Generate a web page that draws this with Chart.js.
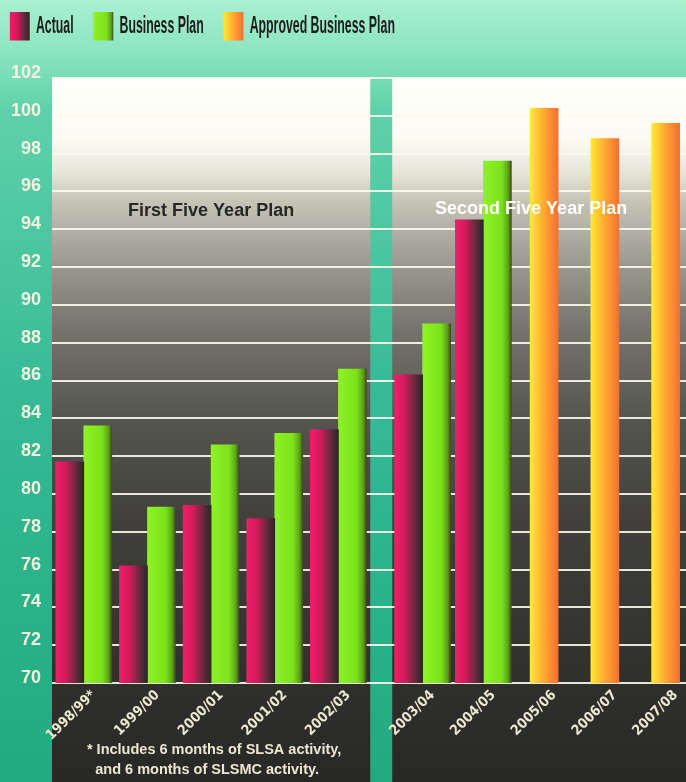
<!DOCTYPE html>
<html>
<head>
<meta charset="utf-8">
<script src="https://cdn.jsdelivr.net/npm/chart.js@4.4.1/dist/chart.umd.min.js"></script>
<style>
  html, body { margin: 0; padding: 0; background: #3cc39c; }
  #wrap { position: relative; width: 686px; height: 782px; }
</style>
</head>
<body>
<div id="wrap"><canvas id="chart"></canvas></div>
<script>
// ---- data ----
const categories = ['1998/99*', '1999/00', '2000/01', '2001/02', '2002/03',
                    '2003/04', '2004/05', '2005/06', '2006/07', '2007/08'];
const actual       = [81.7, 76.2, 79.4, 78.7, 83.4, 86.3, 94.5, null, null, null];
const businessPlan = [83.6, 79.3, 82.6, 83.2, 86.6, 89.0, 97.6, null, null, null];
const approvedPlan = [null, null, null, null, null, null, null, 100.4, 98.8, 99.6];
const yTickValues  = [70, 72, 74, 76, 78, 80, 82, 84, 86, 88, 90, 92, 94, 96, 98, 100, 102];
const panelTitles  = ['First Five Year Plan', 'Second Five Year Plan'];
const footnoteLines = ['* Includes 6 months of SLSA activity,', 'and 6 months of SLSMC activity.'];

// ---- styles ----
const CONDENSED = "'DejaVu Sans Condensed', 'Liberation Sans', sans-serif";
const SANS = "'Liberation Sans', Arial, sans-serif";
const shades = {
  actual:   [[0, '#ee1f68'], [0.35, '#d41a5b'], [0.75, '#5e2b3b'], [1, '#2c2527']],
  plan:     [[0, '#8ef224'], [0.65, '#7ce21b'], [0.88, '#5ca41a'], [1, '#3c4c1c']],
  approved: [[0, '#ffea34'], [0.3, '#ffc232'], [0.65, '#ff9532'], [1, '#f27032']]
};

// Category axis split into two panels with a gap between them.
class SplitCategoryScale extends Chart.CategoryScale {
  panelGeometry() {
    const o = this.options;
    const n = this.getLabels().length;
    const split = o.splitAt;
    const usable = this.width - o.panelGap;
    const leftW = usable * o.leftShare;
    const left0 = this.left, left1 = this.left + leftW;
    const right0 = left1 + o.panelGap, right1 = this.right;
    return {
      n, split, left0, left1, right0, right1,
      leftStep: leftW / split,
      rightStep: (right1 - right0 + o.rightOverhang) / (n - split)
    };
  }
  getPixelForValue(value) {
    if (typeof value !== 'number') value = this.parse(value);
    if (value === null || value === undefined || isNaN(value)) return NaN;
    const g = this.panelGeometry();
    if (value < g.split) return g.left0 + (value + 0.5) * g.leftStep;
    return g.right0 + (value - g.split + 0.5) * g.rightStep;
  }
}
SplitCategoryScale.id = 'splitCategory';
SplitCategoryScale.defaults = Chart.CategoryScale.defaults;
Chart.register(SplitCategoryScale);

function gradientFrom(ctx, x0, x1, stops) {
  const g = ctx.createLinearGradient(x0, 0, x1, 0);
  stops.forEach(([o, c]) => g.addColorStop(o, c));
  return g;
}

// page backdrop and the two shaded panels
const panelBackdrop = {
  id: 'panelBackdrop',
  beforeDraw(chart) {
    const { ctx, width, height, chartArea } = chart;
    const g = chart.scales.x.panelGeometry();
    ctx.save();
    const page = ctx.createLinearGradient(0, 0, 0, height);
    page.addColorStop(0, '#a9f0cf');
    page.addColorStop(0.06, '#8fe6c2');
    page.addColorStop(0.14, '#5fd1aa');
    page.addColorStop(0.5, '#36bb94');
    page.addColorStop(1, '#21aa7f');
    ctx.fillStyle = page;
    ctx.fillRect(0, 0, width, height);

    const top = chartArea.top, span = height - top;
    const f = (y) => Math.min(1, Math.max(0, (y - top) / span));
    const pan = ctx.createLinearGradient(0, top, 0, height);
    pan.addColorStop(0, '#fffffb');
    pan.addColorStop(f(140), '#fbfbf2');
    pan.addColorStop(f(175), '#e4e3d6');
    pan.addColorStop(f(200), '#c6c5b8');
    pan.addColorStop(f(260), '#9d9c92');
    pan.addColorStop(f(330), '#74746c');
    pan.addColorStop(f(420), '#55554f');
    pan.addColorStop(f(520), '#41403c');
    pan.addColorStop(f(683), '#2f2f2c');
    pan.addColorStop(1, '#282826');
    ctx.fillStyle = pan;
    ctx.fillRect(g.left0, top, g.left1 - g.left0, height - top);
    ctx.fillRect(g.right0, top, g.right1 - g.right0, height - top);
    ctx.restore();

    // legend swatches shaded like the bars
    const lg = chart.legend;
    if (lg && lg.legendItems && lg.legendHitBoxes) {
      lg.legendItems.forEach((item, i) => {
        const hb = lg.legendHitBoxes[i];
        const ds = chart.data.datasets[item.datasetIndex];
        if (!hb || !ds) return;
        const bw = lg.options.labels.boxWidth;
        item.fillStyle = gradientFrom(ctx, hb.left, hb.left + bw, ds.shade);
      });
    }
  }
};

// horizontal shading on each bar
const barShading = {
  id: 'barShading',
  beforeDatasetsDraw(chart) {
    const ctx = chart.ctx;
    chart.data.datasets.forEach((ds, di) => {
      const meta = chart.getDatasetMeta(di);
      meta.data.forEach((el) => {
        const { x, width } = el.getProps(['x', 'width'], true);
        if (!isFinite(x) || !isFinite(width) || width <= 0) return;
        el.options = Object.assign({}, el.options, {
          backgroundColor: gradientFrom(ctx, x - width / 2, x + width / 2, ds.shade)
        });
      });
    });
  }
};

// panel captions and the footnote
const captions = {
  id: 'captions',
  afterDatasetsDraw(chart) {
    const { ctx, chartArea, height } = chart;
    const g = chart.scales.x.panelGeometry();
    const yTitle = chartArea.top + (chartArea.bottom - chartArea.top) * 0.22;
    ctx.save();
    ctx.textAlign = 'center';
    ctx.textBaseline = 'middle';
    ctx.font = 'bold 18px ' + SANS;
    ctx.fillStyle = '#272725';
    ctx.fillText(panelTitles[0], (g.left0 + g.left1) / 2, yTitle);
    ctx.fillStyle = '#ffffff';
    ctx.fillText(panelTitles[1], (g.right0 + g.right1) / 2 - 8, yTitle - 2);

    ctx.font = 'bold 14.5px ' + SANS;
    ctx.fillStyle = '#ece6d0';
    const cx = (g.left0 + g.left1) / 2;
    ctx.fillText(footnoteLines[0], cx + 3, height - 32);
    ctx.fillText(footnoteLines[1], cx - 4, height - 12);
    ctx.restore();
  }
};

// legend in a fixed-height band, set in a narrow, tall type
const legendBand = {
  id: 'legendBand',
  beforeLayout(chart, args, opts) {
    const lg = chart.legend;
    if (lg && !lg.$banded) {
      const fit = lg.fit.bind(lg);
      const draw = lg.draw.bind(lg);
      lg.fit = function () { fit(); this.height = opts.height; };
      lg.draw = function (area) {
        const c = this.ctx;
        c.save();
        c.translate(opts.dx, opts.dy);
        c.scale(opts.sx, opts.sy);
        draw(area);
        c.restore();
      };
      lg.$banded = true;
    }
  }
};

const barCommon = { barThickness: 28, borderWidth: 0, skipNull: true, borderSkipped: false };

new Chart(document.getElementById('chart'), {
  type: 'bar',
  data: {
    labels: categories,
    datasets: [
      Object.assign({ label: 'Actual', data: actual, shade: shades.actual,
        backgroundColor: () => '#d41a5b' }, barCommon),
      Object.assign({ label: 'Business Plan', data: businessPlan, shade: shades.plan,
        backgroundColor: () => '#7ce21b' }, barCommon),
      Object.assign({ label: 'Approved Business Plan', data: approvedPlan, shade: shades.approved,
        backgroundColor: () => '#ffb032' }, barCommon)
    ]
  },
  plugins: [legendBand, panelBackdrop, barShading, captions],
  options: {
    responsive: true,
    maintainAspectRatio: false,
    animation: false,
    events: [],
    layout: { padding: 0 },
    plugins: {
      legendBand: { height: 78, sx: 0.685, sy: 1.3, dx: -10, dy: -25.7 },
      tooltip: { enabled: false },
      title: { display: false },
      legend: {
        position: 'top',
        align: 'start',
        labels: {
          boxWidth: 29,
          boxHeight: 22,
          padding: 29,
          color: '#1c1c1c',
          font: { family: SANS, size: 18, weight: 'bold' }
        }
      }
    },
    scales: {
      x: {
        type: 'splitCategory',
        splitAt: 5,
        panelGap: 22,
        leftShare: 0.52,
        rightOverhang: 10,
        grid: { display: false, drawTicks: false },
        border: { display: false },
        afterFit: (s) => { s.height = 99; },
        ticks: {
          autoSkip: false,
          minRotation: 45,
          maxRotation: 45,
          labelOffset: 10,
          padding: 4,
          color: '#ece8d2',
          font: { family: CONDENSED, size: 14, weight: 'bold' },
          callback: function (v) { return this.getLabelForValue(v); }
        }
      },
      y: {
        min: 70,
        max: 102,
        afterBuildTicks: (s) => { s.ticks = yTickValues.map((v) => ({ value: v })); },
        afterFit: (s) => { s.width = 52; },
        grid: { color: 'rgba(250,250,238,0.9)', lineWidth: 2, drawTicks: false },
        border: { display: false },
        ticks: {
          padding: 11,
          labelOffset: -5,
          color: '#f4f2e2',
          font: { family: SANS, size: 18, weight: 'bold' }
        }
      }
    }
  }
});
</script>
</body>
</html>
